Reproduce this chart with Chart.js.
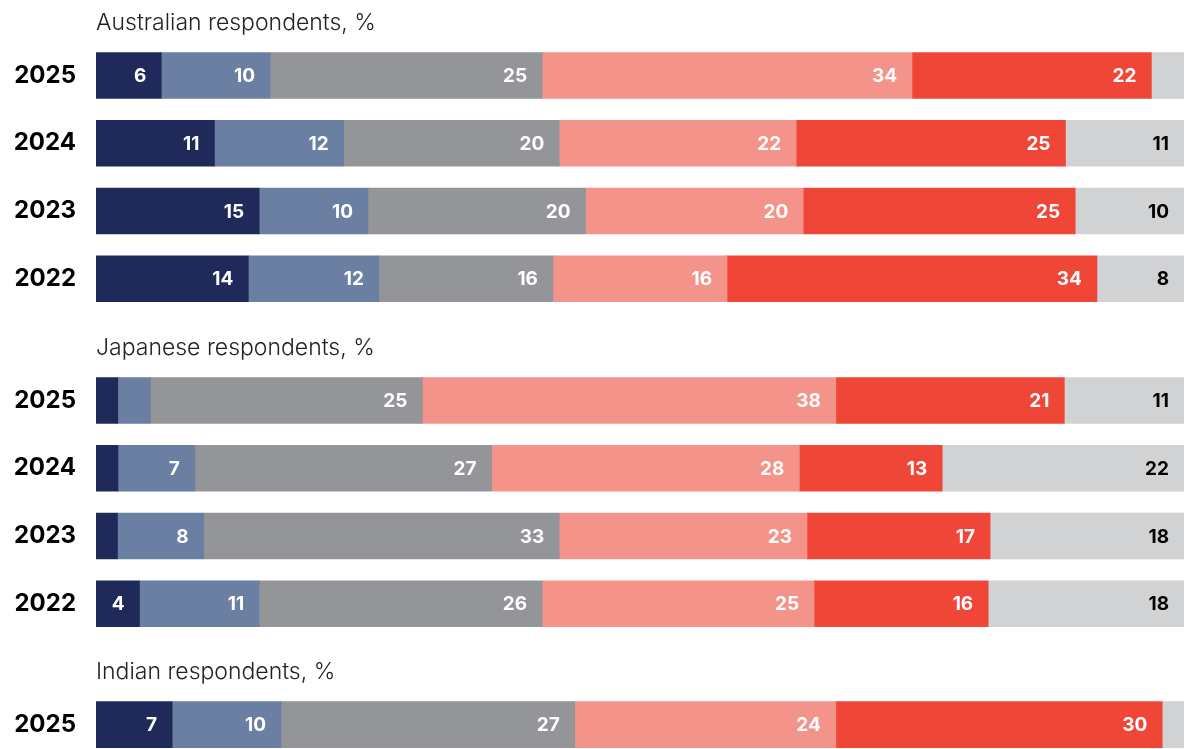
<!DOCTYPE html>
<html>
<head>
<meta charset="utf-8">
<script src="https://cdn.jsdelivr.net/npm/chart.js@4/dist/chart.umd.min.js"></script>
<style>
  body { margin: 0; background: #fff; overflow: hidden; }
  .box { position: absolute; left: 0; width: 1187px; }
  #au { top: 0; height: 347px; }
  #jp { top: 325px; height: 347px; }
  #in { top: 649px; height: 144px; }
</style>
</head>
<body>
<div class="box" id="au"><canvas id="auChart"></canvas></div>
<div class="box" id="jp"><canvas id="jpChart"></canvas></div>
<div class="box" id="in"><canvas id="inChart"></canvas></div>
<script>
'use strict';

// six answer segments, dark blue to light grey
const segmentColors = ['#1f2a5b', '#6a7fa1', '#939598', '#f4938a', '#ef4638', '#d1d2d4'];

const auYears = ['2025', '2024', '2023', '2022'];
const auValues = [
  [6, 11, 15, 14],
  [10, 12, 10, 12],
  [25, 20, 20, 16],
  [34, 22, 20, 16],
  [22, 25, 25, 34],
  [3, 11, 10, 8]
];

const jpYears = ['2025', '2024', '2023', '2022'];
const jpValues = [
  [2, 2, 2, 4],
  [3, 7, 8, 11],
  [25, 27, 33, 26],
  [38, 28, 23, 25],
  [21, 13, 17, 16],
  [11, 22, 18, 18]
];

const inYears = ['2025'];
const inValues = [[7], [10], [27], [24], [30], [2]];

const FONT = 'Inter, "Open Sans", sans-serif';

// number at the right end of each segment (small ones are left blank)
const segmentLabels = {
  id: 'segmentLabels',
  afterDatasetsDraw(chart) {
    const ctx = chart.ctx;
    ctx.save();
    ctx.font = 'bold 19px ' + FONT;
    ctx.textAlign = 'right';
    ctx.textBaseline = 'middle';
    chart.data.datasets.forEach((ds, di) => {
      chart.getDatasetMeta(di).data.forEach((bar, i) => {
        const v = ds.raw[i];
        if (v < 4) return;
        ctx.fillStyle = di === 5 ? '#000' : '#fff';
        ctx.fillText(String(v), bar.x - 15, bar.y + 1);
      });
    });
    ctx.restore();
  }
};

function makeChart(id, title, years, values) {
  // each bar shown as share of its own total
  const totals = years.map((y, i) => values.reduce((s, row) => s + row[i], 0));
  const datasets = values.map((row, k) => ({
    data: row.map((v, i) => v / totals[i] * 100),
    raw: row,
    backgroundColor: segmentColors[k],
    borderWidth: 0,
    barThickness: 46
  }));
  return new Chart(document.getElementById(id), {
    type: 'bar',
    data: { labels: years, datasets: datasets },
    plugins: [segmentLabels],
    options: {
      indexAxis: 'y',
      responsive: true,
      maintainAspectRatio: false,
      animation: false,
      layout: { padding: { left: 0, right: 3, top: 0, bottom: 0 } },
      plugins: {
        legend: { display: false },
        tooltip: { enabled: false },
        title: {
          display: true,
          text: title,
          align: 'start',
          fullSize: false,
          color: '#222',
          font: { family: FONT, size: 23, weight: 300 },
          padding: { top: 9, bottom: 5 }
        }
      },
      scales: {
        x: { stacked: true, min: 0, max: 100, display: false },
        y: {
          stacked: true,
          grid: { display: false, drawTicks: false },
          border: { display: false },
          afterFit(scale) { scale.width = 96; },
          ticks: {
            padding: 20,
            color: '#000',
            font: { family: FONT, size: 24, weight: 'bold' }
          }
        }
      }
    }
  });
}

makeChart('auChart', 'Australian respondents, %', auYears, auValues);
makeChart('jpChart', 'Japanese respondents, %', jpYears, jpValues);
makeChart('inChart', 'Indian respondents, %', inYears, inValues);
</script>
</body>
</html>
